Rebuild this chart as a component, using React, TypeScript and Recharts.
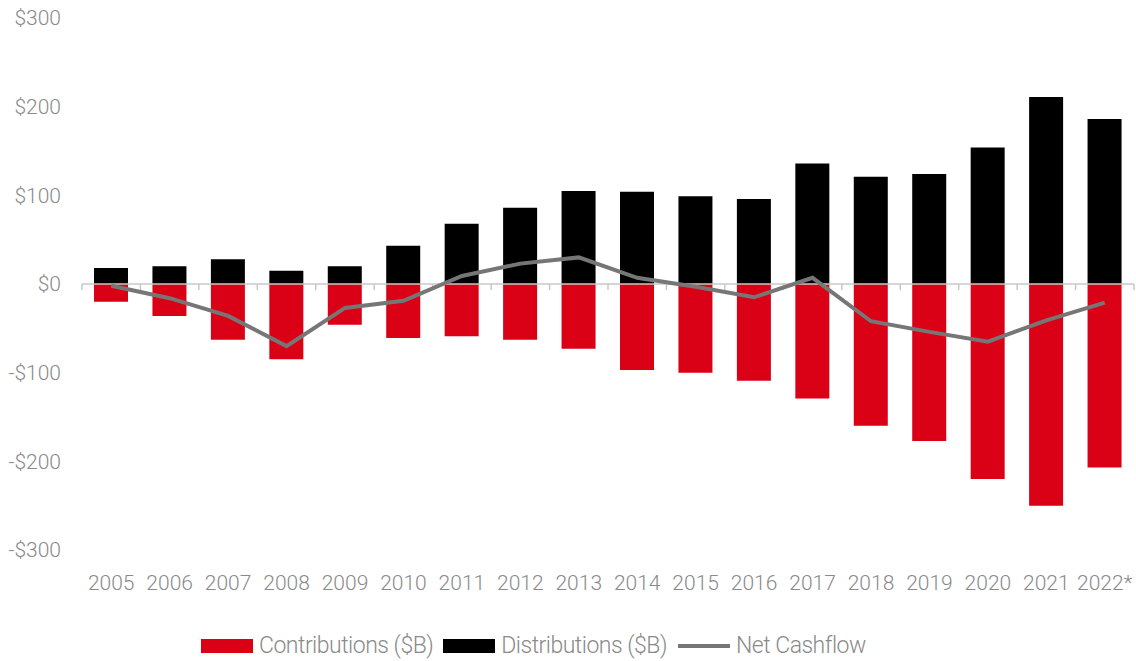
import React from "react";
import { ComposedChart, Bar, Line, XAxis, YAxis, ReferenceLine } from "recharts";

const years = ["2005","2006","2007","2008","2009","2010","2011","2012","2013","2014","2015","2016","2017","2018","2019","2020","2021","2022*"];
const contributions = [-20,-36,-63,-85,-46,-61,-59,-63,-73,-97,-100,-109,-129,-160,-177,-220,-250,-207];
const distributions = [18,20,28,15,20,43,68,86,105,104,99,96,136,121,124,154,211,186];
const netCashflow = [-2,-16,-36,-70,-27,-19,9,23,30,7,-3,-15,7,-42,-54,-65,-41,-21];
const yTicks = [-300,-200,-100,0,100,200,300];

const seriesNames = { c: "Contributions ($B)", d: "Distributions ($B)", n: "Net Cashflow" };
const RED = "#da0016";
const BLACK = "#000000";
const LINE = "#767676";
const TEXT = "#8a8a8a";
const AXIS = "#c8c8c8";
const FONT = "Roboto, 'Liberation Sans', sans-serif";

const data = years.map((y, i) => ({
  year: y,
  contributions: contributions[i],
  distributions: distributions[i],
  net: netCashflow[i],
}));

const fmt = (v: number) => (v < 0 ? `-$${-v}` : `$${v}`);

const ZeroAxis = (props: any) => {
  const { x1, y1, x2 } = props;
  const n = years.length;
  const step = (x2 - x1) / n;
  const marks = [];
  for (let i = 0; i <= n; i++) {
    const x = x1 + i * step;
    marks.push(<line key={i} x1={x} x2={x} y1={y1} y2={y1 + 6} stroke={AXIS} strokeWidth={1.5} />);
  }
  return (
    <g>
      <line x1={x1} x2={x2} y1={y1} y2={y1} stroke={AXIS} strokeWidth={1.5} />
      {marks}
    </g>
  );
};

const tickStyle = { fill: TEXT, fontSize: 21, fontFamily: FONT, fontWeight: 300 };

export default function App() {
  return (
    <div style={{ position: "absolute", left: 0, top: 0, width: 1136, height: 661, background: "#fff" }}>
      <ComposedChart
        width={1136}
        height={661}
        data={data}
        stackOffset="sign"
        margin={{ top: 18, right: 2, left: 0, bottom: 71 }}
      >
        <XAxis
          dataKey="year"
          axisLine={false}
          tickLine={false}
          interval={0}
          height={40}
          tickMargin={19}
          tick={tickStyle}
        />
        <YAxis
          domain={[-300, 300]}
          ticks={yTicks}
          tickFormatter={fmt}
          axisLine={false}
          tickLine={false}
          width={82}
          tickMargin={15}
          tick={tickStyle}
          interval={0}
        />
        <Bar dataKey="contributions" name={seriesNames.c} stackId="a" fill={RED} barSize={34} isAnimationActive={false} />
        <Bar dataKey="distributions" name={seriesNames.d} stackId="a" fill={BLACK} barSize={34} isAnimationActive={false} />
        <ReferenceLine y={0} shape={ZeroAxis} />
        <Line dataKey="net" name={seriesNames.n} type="linear" stroke={LINE} strokeWidth={4} dot={false} isAnimationActive={false} />
      </ComposedChart>
      <div
        style={{
          position: "absolute",
          left: 201,
          top: 632,
          display: "flex",
          alignItems: "center",
          fontFamily: FONT,
          fontWeight: 300,
          fontSize: 23,
          letterSpacing: "-0.5px",
          color: TEXT,
          whiteSpace: "nowrap",
          lineHeight: "28px",
        }}
      >
        <span style={{ display: "inline-block", width: 52, height: 14, background: RED, marginRight: 6 }} />
        <span style={{ marginRight: 10 }}>{seriesNames.c}</span>
        <span style={{ display: "inline-block", width: 52, height: 14, background: BLACK, marginRight: 6 }} />
        <span style={{ marginRight: 11 }}>{seriesNames.d}</span>
        <span style={{ display: "inline-block", width: 52, height: 4, background: LINE, marginRight: 6 }} />
        <span>{seriesNames.n}</span>
      </div>
    </div>
  );
}
